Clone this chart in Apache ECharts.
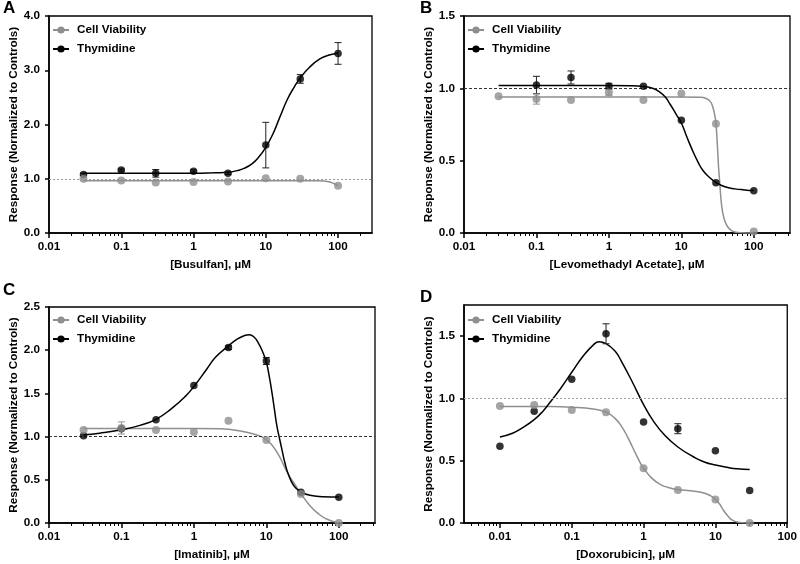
<!DOCTYPE html>
<html><head><meta charset="utf-8">
<script src="https://cdn.jsdelivr.net/npm/echarts@6/dist/echarts.min.js"></script>
<style>html,body{margin:0;padding:0;background:#fff}#c{width:800px;height:564px}</style>
</head><body><div id="c"></div>
<script>
// ---------- DATA ----------
const concABC = [0.03, 0.1, 0.3, 1, 3, 10, 30, 100];
const concD = [0.01, 0.03, 0.1, 0.3, 1, 3, 10, 30];
const legendNames = ['Cell Viability', 'Thymidine'];
const yAxisTitle = 'Response (Normalized to Controls)';

// A: Busulfan
const busulfanViab = [1.00, 0.97, 0.93, 0.94, 0.95, 1.01, 1.00, 0.87];
const busulfanViabErr = [0, 0, 0, 0, 0, 0, 0, 0];
const busulfanThym = [1.08, 1.16, 1.10, 1.14, 1.10, 1.62, 2.84, 3.31];
const busulfanThymErr = [0.02, 0.02, 0.07, 0.02, 0.02, 0.42, 0.08, 0.20];
const busulfanViabFit = [[0.03,0.965],[1,0.965],[10,0.965],[50,0.963],[65,0.957],[75,0.945],[85,0.92],[92,0.898],[100,0.87]];
const busulfanThymFit = [[0.03,1.10],[0.3,1.10],[1,1.10],[2,1.11],[3,1.12],[4,1.15],[5,1.19],[6.5,1.28],[8,1.40],[10,1.58],[12.5,1.82],[15.8,2.15],[20,2.47],[25,2.70],[30,2.86],[40,3.05],[56,3.21],[75,3.28],[100,3.32]];

// B: Levomethadyl Acetate
const levoViab = [0.945, 0.926, 0.92, 0.972, 0.92, 0.965, 0.755, 0.01];
const levoViabErr = [0, 0.035, 0, 0.02, 0, 0, 0, 0];
const levoThym = [null, 1.023, 1.075, 1.015, 1.014, 0.78, 0.348, 0.292];
const levoThymErr = [0, 0.06, 0.045, 0.02, 0, 0, 0, 0];
const levoViabFit = [[0.03,0.94],[1,0.94],[10,0.94],[18,0.938],[22,0.93],[25,0.91],[27,0.875],[28.5,0.83],[30,0.76],[31.3,0.62],[32.6,0.46],[34,0.34],[35.3,0.23],[37,0.15],[40,0.08],[44,0.04],[50,0.015],[60,0.004],[100,0.0]];
const levoThymFit = [[0.03,1.02],[1,1.02],[2,1.018],[3,1.012],[4,1.0],[5,0.975],[6,0.94],[7,0.89],[8.5,0.82],[10,0.76],[12,0.66],[14,0.58],[17,0.49],[20,0.43],[25,0.38],[30,0.35],[40,0.32],[55,0.305],[75,0.298],[100,0.293]];

// C: Imatinib
const imatViab = [1.076, 1.10, 1.076, 1.053, 1.184, 0.96, 0.336, 0.0];
const imatViabErr = [0, 0.07, 0, 0, 0, 0, 0, 0];
const imatThym = [1.01, 1.09, 1.196, 1.59, 2.03, 1.875, 0.355, 0.297];
const imatThymErr = [0, 0, 0, 0, 0.02, 0.04, 0, 0];
const imatViabFit = [[0.03,1.095],[1,1.095],[2.3,1.09],[4.4,1.065],[6.8,1.027],[10,0.965],[14,0.82],[19.6,0.58],[25,0.44],[30,0.34],[40,0.2],[50,0.12],[70,0.04],[100,0.005]];
const imatThymFit = [[0.03,1.02],[0.05,1.04],[0.1,1.08],[0.18,1.13],[0.3,1.20],[0.5,1.33],[0.75,1.46],[1,1.58],[1.5,1.78],[2,1.92],[3,2.05],[4,2.13],[5,2.17],[5.8,2.18],[6.8,2.15],[7.8,2.08],[8.8,1.99],[10,1.86],[11,1.69],[12,1.50],[13,1.30],[14,1.12],[15,1.0],[16.5,0.84],[18,0.70],[20,0.57],[24,0.43],[30,0.36],[40,0.32],[60,0.305],[100,0.30]];

// D: Doxorubicin
const doxoViab = [0.94, 0.948, 0.908, 0.889, 0.439, 0.264, 0.189, 0.0];
const doxoViabErr = [0, 0, 0, 0, 0, 0, 0, 0];
const doxoThym = [0.617, 0.897, 1.153, 1.519, 0.811, 0.757, 0.579, 0.261];
const doxoThymErr = [0, 0, 0, 0.08, 0, 0.04, 0, 0];
const doxoViabFit = [[0.01,0.935],[0.05,0.935],[0.1,0.93],[0.2,0.915],[0.3,0.89],[0.4,0.84],[0.5,0.77],[0.6,0.69],[0.7,0.61],[0.85,0.51],[1,0.44],[1.3,0.36],[1.7,0.31],[2.2,0.285],[3,0.268],[4.5,0.258],[6.5,0.245],[8.5,0.22],[10,0.19],[11.5,0.15],[13,0.10],[15,0.055],[17,0.025],[20,0.008],[25,0.001],[30,0.0]];
const doxoThymFit = [[0.01,0.69],[0.015,0.72],[0.02,0.76],[0.03,0.83],[0.04,0.90],[0.05,0.97],[0.07,1.08],[0.1,1.21],[0.14,1.33],[0.2,1.43],[0.24,1.455],[0.3,1.44],[0.4,1.38],[0.5,1.29],[0.7,1.13],[1,0.95],[1.4,0.81],[2,0.70],[3,0.61],[5,0.53],[7,0.49],[10,0.465],[15,0.445],[20,0.435],[30,0.43]];

// tick labels
const xMajorTicks = [0.01, 0.1, 1, 10, 100];
const xMinorTicksABC = [0.02,0.03,0.04,0.05,0.06,0.07,0.08,0.09,0.2,0.3,0.4,0.5,0.6,0.7,0.8,0.9,2,3,4,5,6,7,8,9,20,30,40,50,60,70,80,90,200,300];
const xMinorTicksD = [0.004,0.005,0.006,0.007,0.008,0.009,0.02,0.03,0.04,0.05,0.06,0.07,0.08,0.09,0.2,0.3,0.4,0.5,0.6,0.7,0.8,0.9,2,3,4,5,6,7,8,9,20,30,40,50,60,70,80,90];
const yTicksA = [0, 1, 2, 3, 4];
const yTicksB = [0, 0.5, 1.0, 1.5];
const yTicksC = [0, 0.5, 1.0, 1.5, 2.0, 2.5];
const yTicksD = [0, 0.5, 1.0, 1.5];

// ---------- CHART ----------
const FONT = '"Liberation Sans", Arial, Helvetica, sans-serif';
const GREY = '#8f8f8f';
const BLACK = '#000000';
const txt = {color:'#000', fontFamily:FONT, fontWeight:'bold', fontSize:11.7};

const panels = [
  {letter:'A', lx:3, ly:9, grid:{left:49, top:16, width:323, height:217}, xMin:0.01, xMax:295, yMax:4, yTicks:yTicksA, minors:xMinorTicksABC, xName:'[Busulfan], µM', conc:concABC,
   viab:busulfanViab, viabErr:busulfanViabErr, thym:busulfanThym, thymErr:busulfanThymErr, viabFit:busulfanViabFit, thymFit:busulfanThymFit, refColor:'#9a9a9a', refType:[2,2], legTop:0},
  {letter:'B', lx:420, ly:9, grid:{left:464, top:16, width:326, height:217}, xMin:0.01, xMax:316, yMax:1.5, yTicks:yTicksB, minors:xMinorTicksABC, xName:'[Levomethadyl Acetate], µM', conc:concABC,
   viab:levoViab, viabErr:levoViabErr, thym:levoThym, thymErr:levoThymErr, viabFit:levoViabFit, thymFit:levoThymFit, refColor:'#333', refType:[3,2], legTop:0},
  {letter:'C', lx:3, ly:291, grid:{left:49, top:307, width:326, height:216}, xMin:0.01, xMax:316, yMax:2.5, yTicks:yTicksC, minors:xMinorTicksABC, xName:'[Imatinib], µM', conc:concABC,
   viab:imatViab, viabErr:imatViabErr, thym:imatThym, thymErr:imatThymErr, viabFit:imatViabFit, thymFit:imatThymFit, refColor:'#333', refType:[3,2], legTop:-1},
  {letter:'D', lx:420, ly:298, grid:{left:464, top:305, width:325, height:218}, xMin:0.0031623, xMax:100, yMax:1.75, yTicks:yTicksD, minors:xMinorTicksD, xName:'[Doxorubicin], µM', conc:concD,
   viab:doxoViab, viabErr:doxoViabErr, thym:doxoThym, thymErr:doxoThymErr, viabFit:doxoViabFit, thymFit:doxoThymFit, refColor:'#9a9a9a', refType:[2,2], legTop:1}
];

function pairs(xs, ys){ return xs.map((x,i)=> ys[i]==null ? null : [x, ys[i]]).filter(Boolean); }
function errs(xs, ys, es){ return xs.map((x,i)=> (ys[i]!=null && es[i]>0) ? [x, ys[i]-es[i], ys[i]+es[i]] : null).filter(Boolean); }
function fmtX(v){ return String(Number(Number(v).toPrecision(6))); }
function renderErr(params, api){
  const x = api.value(0), lo = api.value(1), hi = api.value(2);
  const p1 = api.coord([x, hi]), p2 = api.coord([x, lo]);
  const w = 3.5;
  const style = {stroke: api.visual('color'), lineWidth: 1, fill: null};
  return {type:'group', children:[
    {type:'line', shape:{x1:p1[0], y1:p1[1], x2:p2[0], y2:p2[1]}, style},
    {type:'line', shape:{x1:p1[0]-w, y1:p1[1], x2:p1[0]+w, y2:p1[1]}, style},
    {type:'line', shape:{x1:p2[0]-w, y1:p2[1], x2:p2[0]+w, y2:p2[1]}, style}
  ]};
}

const option = {animation:false, backgroundColor:'#fff', grid:[], xAxis:[], yAxis:[], series:[], legend:[], graphic:[]};

panels.forEach((p, i) => {
  option.grid.push(Object.assign({show:true, borderColor:'#000', borderWidth:1.3, backgroundColor:'transparent'}, p.grid));
  option.xAxis.push({
    type:'log', logBase:10, gridIndex:i, min:p.xMin, max:p.xMax,
    axisLine:{show:true, onZero:false, lineStyle:{color:'#000', width:1.6}},
    axisTick:{show:true, length:5, customValues:xMajorTicks, lineStyle:{color:'#000', width:1.5}},
    axisLabel:Object.assign({customValues:xMajorTicks, formatter:fmtX, margin:8}, txt),
    splitLine:{show:false}, minorTick:{show:false}, minorSplitLine:{show:false},
    name:p.xName, nameLocation:'middle', nameGap:26, nameTextStyle:Object.assign({}, txt)
  });
  option.xAxis.push({
    type:'log', logBase:10, gridIndex:i, min:p.xMin, max:p.xMax, position:'bottom',
    axisLine:{show:false, onZero:false},
    axisTick:{show:true, length:3, customValues:p.minors, lineStyle:{color:'#000', width:1}},
    axisLabel:{show:false}, splitLine:{show:false}
  });
  option.yAxis.push({
    type:'value', gridIndex:i, min:0, max:p.yMax,
    axisLine:{show:true, onZero:false, lineStyle:{color:'#000', width:1.6}},
    axisTick:{show:true, length:4, customValues:p.yTicks, lineStyle:{color:'#000', width:1.5}},
    axisLabel:Object.assign({customValues:p.yTicks, formatter:v=>Number(v).toFixed(1), margin:9}, txt),
    splitLine:{show:false},
    name:yAxisTitle, nameLocation:'middle', nameGap:28, nameTextStyle:Object.assign({}, txt)
  });
  const xi = 2*i, yi = i;
  // fitted curves
  option.series.push({type:'line', name:legendNames[0], xAxisIndex:xi, yAxisIndex:yi, data:p.viabFit, smooth:0.5,
    symbol:'circle', symbolSize:7, showSymbol:false, lineStyle:{color:GREY, width:1.5}, itemStyle:{color:GREY}, z:2, silent:true,
    markLine:{silent:true, symbol:'none', label:{show:false}, lineStyle:{color:p.refColor, type:p.refType, width:1}, data:[{yAxis:1}]}});
  option.series.push({type:'line', name:legendNames[1], xAxisIndex:xi, yAxisIndex:yi, data:p.thymFit, smooth:0.5,
    symbol:'circle', symbolSize:7, showSymbol:false, lineStyle:{color:BLACK, width:1.5}, itemStyle:{color:BLACK}, z:3, silent:true});
  // error bars
  option.series.push({type:'custom', name:'thymErr', xAxisIndex:xi, yAxisIndex:yi, renderItem:renderErr, itemStyle:{color:'#222'},
    encode:{x:0, y:[1,2]}, data:errs(p.conc, p.thym, p.thymErr), z:4, silent:true});
  option.series.push({type:'custom', name:'viabErr', xAxisIndex:xi, yAxisIndex:yi, renderItem:renderErr, itemStyle:{color:GREY},
    encode:{x:0, y:[1,2]}, data:errs(p.conc, p.viab, p.viabErr), z:4, silent:true});
  // points
  option.series.push({type:'scatter', name:'thymPts', xAxisIndex:xi, yAxisIndex:yi, data:pairs(p.conc, p.thym), symbol:'circle', symbolSize:7.5,
    itemStyle:{color:BLACK}, z:5, silent:true});
  option.series.push({type:'scatter', name:'viabPts', xAxisIndex:xi, yAxisIndex:yi, data:pairs(p.conc, p.viab), symbol:'circle', symbolSize:8,
    itemStyle:{color:GREY}, z:6, silent:true});
  option.legend.push({orient:'vertical', left:p.grid.left - 2, top:p.grid.top + 3 + p.legTop, itemWidth:16, itemHeight:9, itemGap:7,
    data:legendNames, textStyle:Object.assign({padding:[0,0,0,3]}, txt), selectedMode:false});
  option.graphic.push({type:'text', left:p.lx, top:p.ly - 9, style:{text:p.letter, fill:'#000', font:'bold 17px ' + FONT}});
});

const chart = echarts.init(document.getElementById('c'), null, {renderer:'canvas'});
chart.setOption(option);
</script>
</body></html>
